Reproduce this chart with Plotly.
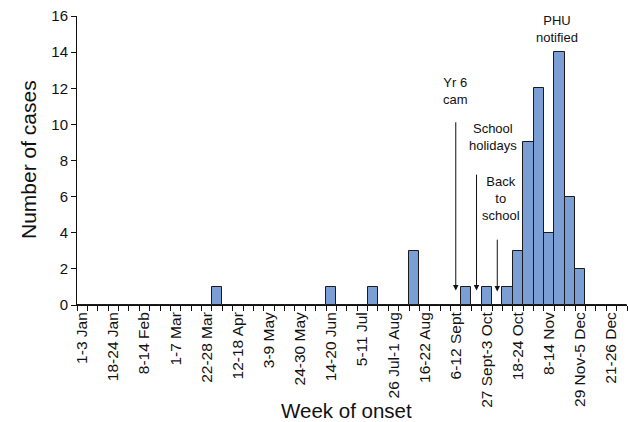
import plotly.graph_objects as go

# Weekly case counts (53 weeks, index 0 = 1-3 Jan)
cases = [0, 0, 0, 0, 0, 0, 0, 0, 0, 0, 0, 0, 0,
         1,
         0, 0, 0, 0, 0, 0, 0, 0, 0, 0,
         1,
         0, 0, 0,
         1,
         0, 0, 0,
         3,
         0, 0, 0, 0,
         1,
         0,
         1,
         0,
         1,
         3, 9, 12, 4, 14, 6, 2,
         0, 0, 0, 0]
weeks = list(range(len(cases)))

tick_labels = ["1-3 Jan", "18-24 Jan", "8-14 Feb", "1-7 Mar", "22-28 Mar",
               "12-18 Apr", "3-9 May", "24-30 May", "14-20 Jun", "5-11 Jul",
               "26 Jul-1 Aug", "16-22 Aug", "6-12 Sept", "27 Sept-3 Oct",
               "18-24 Oct", "8-14 Nov", "29 Nov-5 Dec", "21-26 Dec"]
tick_weeks = [3 * i for i in range(len(tick_labels))]

# Event arrows: week index, arrow start height, arrow end height
arrow_weeks = [36, 38, 40]
arrow_start = [10.2, 7.3, 3.7]
arrow_end = [0.8, 0.8, 0.75]

# Event labels
label_text = ["Yr 6<br>cam", "School<br>holidays", "Back<br>to<br>school", "PHU<br>notified"]
label_x = [36, 39.55, 40.35, 45.8]
label_y = [11.85, 9.3, 5.9, 15.3]

FONT = "Liberation Sans, Arial, sans-serif"

fig = go.Figure()
fig.add_trace(go.Bar(
    x=weeks, y=cases, width=1,
    marker=dict(color="#7b9fd5", line=dict(color="#1a1a1a", width=1)),
    showlegend=False,
))

annotations = []
for w, y0, y1 in zip(arrow_weeks, arrow_start, arrow_end):
    annotations.append(dict(
        x=w, y=y1, ax=w, ay=y0, xref="x", yref="y", axref="x", ayref="y",
        text="", showarrow=True, arrowhead=2, arrowsize=1.1, arrowwidth=1,
        arrowcolor="#111111", standoff=0,
    ))
for t, x, y in zip(label_text, label_x, label_y):
    annotations.append(dict(
        x=x, y=y, xref="x", yref="y", text=t, showarrow=False,
        font=dict(family=FONT, size=13, color="#111111"), align="center",
        xanchor="center", yanchor="middle",
    ))
annotations.append(dict(
    x=346, y=410.5, xref="paper", yref="paper", text="Week of onset",
    showarrow=False, font=dict(family=FONT, size=20.5, color="#111111"),
    xanchor="center", yanchor="middle",
))
annotations.append(dict(
    x=28, y=160, xref="paper", yref="paper", text="Number of cases",
    showarrow=False, textangle=-90, font=dict(family=FONT, size=21, color="#111111"),
    xanchor="center", yanchor="middle",
))

# convert pixel-positioned titles to paper coords
W, H = 628, 422
ml, mr, mt, mb = 77, 1, 16, 117
pw, ph = W - ml - mr, H - mt - mb
for a in annotations[-2:]:
    a["x"] = (a["x"] - ml) / pw
    a["y"] = (H - mb - a["y"]) / ph

fig.update_layout(
    width=W, height=H,
    margin=dict(l=ml, r=mr, t=mt, b=mb, autoexpand=False),
    paper_bgcolor="white", plot_bgcolor="white",
    bargap=0,
    font=dict(family=FONT, size=14, color="#111111"),
    annotations=annotations,
    xaxis=dict(
        range=[-0.5, len(cases) - 0.5], automargin=False,
        tickmode="array", tickvals=tick_weeks, ticktext=tick_labels,
        tickangle=-90, ticks="", showgrid=False, zeroline=False,
        showline=True, linecolor="#111111", linewidth=1,
        tickfont=dict(family=FONT, size=15.5, color="#111111"),
        minor=dict(tick0=-0.5, dtick=1, ticks="outside", ticklen=5,
                   tickwidth=1, tickcolor="#111111", showgrid=False),
    ),
    yaxis=dict(
        range=[0, 16], dtick=2, ticks="outside", ticklen=5, tickwidth=1,
        tickcolor="#111111", showgrid=False, zeroline=False, automargin=False,
        showline=True, linecolor="#111111", linewidth=1,
        tickfont=dict(family=FONT, size=15, color="#111111"),
    ),
)

fig.write_html(
    "out.html",
    config={"displayModeBar": False},
    post_script="document.body.style.margin='0';document.body.style.overflow='hidden';",
)
